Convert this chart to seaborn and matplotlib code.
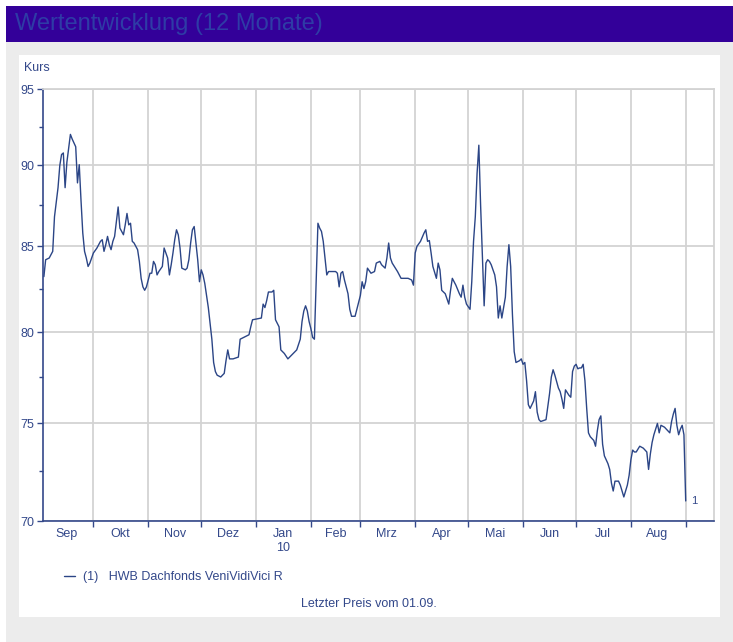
import matplotlib
matplotlib.use('Agg')
import matplotlib.pyplot as plt
import matplotlib.dates as mdates
from matplotlib.patches import Rectangle
from matplotlib.ticker import NullFormatter, FixedLocator, FixedFormatter
import pandas as pd
import seaborn as sns

dates = [
    '2009-09-03', '2009-09-04', '2009-09-06', '2009-09-08', '2009-09-09', '2009-09-11', '2009-09-12',
    '2009-09-13', '2009-09-14', '2009-09-15', '2009-09-16', '2009-09-17', '2009-09-18', '2009-09-19',
    '2009-09-21', '2009-09-22', '2009-09-23', '2009-09-24', '2009-09-25', '2009-09-26', '2009-09-27',
    '2009-09-28', '2009-09-29',
    '2009-10-01', '2009-10-03', '2009-10-05', '2009-10-06', '2009-10-07', '2009-10-08', '2009-10-09',
    '2009-10-10', '2009-10-11', '2009-10-12', '2009-10-13', '2009-10-14', '2009-10-15', '2009-10-16',
    '2009-10-17', '2009-10-18', '2009-10-19', '2009-10-20', '2009-10-21', '2009-10-22', '2009-10-23',
    '2009-10-24', '2009-10-25', '2009-10-26', '2009-10-27', '2009-10-28', '2009-10-29', '2009-10-30',
    '2009-10-31',
    '2009-11-01', '2009-11-02', '2009-11-03', '2009-11-04', '2009-11-05', '2009-11-06', '2009-11-07',
    '2009-11-09', '2009-11-10', '2009-11-11', '2009-11-12', '2009-11-13', '2009-11-14', '2009-11-15',
    '2009-11-16', '2009-11-17', '2009-11-18', '2009-11-19', '2009-11-20', '2009-11-22', '2009-11-23',
    '2009-11-24', '2009-11-25', '2009-11-26', '2009-11-27', '2009-11-28', '2009-11-29', '2009-11-30',
    '2009-12-01', '2009-12-02', '2009-12-03', '2009-12-05', '2009-12-07', '2009-12-08', '2009-12-09',
    '2009-12-10', '2009-12-12', '2009-12-14', '2009-12-15', '2009-12-16', '2009-12-17', '2009-12-19',
    '2009-12-22', '2009-12-23', '2009-12-25', '2009-12-28', '2009-12-29', '2009-12-30',
    '2010-01-04', '2010-01-05', '2010-01-06', '2010-01-07', '2010-01-08', '2010-01-10', '2010-01-11',
    '2010-01-12', '2010-01-14', '2010-01-15', '2010-01-17', '2010-01-19', '2010-01-21', '2010-01-24',
    '2010-01-26', '2010-01-27', '2010-01-28', '2010-01-29', '2010-01-30', '2010-01-31',
    '2010-02-01', '2010-02-02', '2010-02-03', '2010-02-04', '2010-02-05', '2010-02-06', '2010-02-07',
    '2010-02-08', '2010-02-09', '2010-02-10', '2010-02-11', '2010-02-15', '2010-02-16', '2010-02-17',
    '2010-02-18', '2010-02-19', '2010-02-20', '2010-02-21', '2010-02-22', '2010-02-23', '2010-02-24',
    '2010-02-26', '2010-02-27',
    '2010-03-01', '2010-03-02', '2010-03-03', '2010-03-04', '2010-03-05', '2010-03-07', '2010-03-09',
    '2010-03-10', '2010-03-12', '2010-03-13', '2010-03-15', '2010-03-16', '2010-03-17', '2010-03-18',
    '2010-03-19', '2010-03-22', '2010-03-23', '2010-03-24', '2010-03-28', '2010-03-30', '2010-03-31',
    '2010-04-01', '2010-04-02', '2010-04-04', '2010-04-06', '2010-04-07', '2010-04-08', '2010-04-09',
    '2010-04-10', '2010-04-11', '2010-04-13', '2010-04-14', '2010-04-15', '2010-04-16', '2010-04-18',
    '2010-04-20', '2010-04-21', '2010-04-22', '2010-04-24', '2010-04-26', '2010-04-27', '2010-04-28',
    '2010-04-29', '2010-04-30',
    '2010-05-02', '2010-05-03', '2010-05-04', '2010-05-05', '2010-05-06', '2010-05-07', '2010-05-08',
    '2010-05-09', '2010-05-10', '2010-05-11', '2010-05-12', '2010-05-13', '2010-05-14', '2010-05-15',
    '2010-05-16', '2010-05-17', '2010-05-18', '2010-05-19', '2010-05-20', '2010-05-21', '2010-05-22',
    '2010-05-23', '2010-05-24', '2010-05-25', '2010-05-26', '2010-05-27', '2010-05-28', '2010-05-30',
    '2010-05-31',
    '2010-06-01', '2010-06-02', '2010-06-03', '2010-06-04', '2010-06-05', '2010-06-06', '2010-06-07',
    '2010-06-08', '2010-06-09', '2010-06-10', '2010-06-11', '2010-06-14', '2010-06-16', '2010-06-17',
    '2010-06-18', '2010-06-19', '2010-06-21', '2010-06-22', '2010-06-23', '2010-06-24', '2010-06-25',
    '2010-06-27', '2010-06-28', '2010-06-29', '2010-06-30',
    '2010-07-01', '2010-07-02', '2010-07-03', '2010-07-04', '2010-07-05', '2010-07-06', '2010-07-07',
    '2010-07-08', '2010-07-09', '2010-07-11', '2010-07-12', '2010-07-13', '2010-07-14', '2010-07-15',
    '2010-07-16', '2010-07-17', '2010-07-18', '2010-07-19', '2010-07-20', '2010-07-21', '2010-07-22',
    '2010-07-23', '2010-07-25', '2010-07-26', '2010-07-27', '2010-07-28', '2010-07-29', '2010-07-30',
    '2010-07-31',
    '2010-08-01', '2010-08-02', '2010-08-03', '2010-08-04', '2010-08-06', '2010-08-08', '2010-08-09',
    '2010-08-10', '2010-08-11', '2010-08-12', '2010-08-13', '2010-08-14', '2010-08-15', '2010-08-16',
    '2010-08-17', '2010-08-18', '2010-08-20', '2010-08-22', '2010-08-23', '2010-08-24', '2010-08-25',
    '2010-08-26', '2010-08-27', '2010-08-28', '2010-08-29', '2010-08-30', '2010-08-31',
    '2010-09-01',
]
kurs = [
    83.2, 84.2, 84.3, 84.7, 86.8, 88.6, 90.0,
    90.7, 90.8, 88.6, 90.2, 91.1, 92.0, 91.7,
    91.2, 88.9, 90.05, 87.8, 85.8, 84.7, 84.3,
    83.8, 84.0,
    84.6, 84.9, 85.3, 85.4, 84.7, 85.1, 85.6,
    85.1, 84.8, 85.3, 85.6, 86.5, 87.4, 86.1,
    85.9, 85.7, 86.3, 87.0, 86.3, 86.4, 85.3,
    85.2, 85.0, 84.8, 84.1, 83.1, 82.6, 82.4,
    82.6,
    83.0, 83.4, 83.4, 84.1, 83.9, 83.3, 83.5,
    83.8, 84.9, 84.6, 84.3, 83.3, 83.9, 84.6,
    85.4, 86.0, 85.7, 84.9, 83.7, 83.6, 83.7,
    84.2, 85.2, 86.0, 86.2, 85.2, 84.2, 82.9,
    83.6, 83.3, 82.8, 81.4, 79.6, 78.3, 77.8,
    77.6, 77.5, 77.7, 78.4, 79.0, 78.5, 78.5,
    78.6, 79.6, 79.7, 79.85, 80.3, 80.7,
    80.8, 81.6, 81.4, 81.8, 82.3, 82.3, 82.4,
    80.7, 80.3, 79.0, 78.8, 78.5, 78.7, 79.0,
    79.6, 80.6, 81.2, 81.5, 81.2, 80.6,
    80.2, 79.7, 79.6, 83.0, 86.4, 86.1, 85.9,
    85.3, 84.3, 83.3, 83.5, 83.5, 83.4, 82.6,
    83.4, 83.5, 83.0, 82.6, 82.2, 81.3, 80.9,
    80.9, 81.3,
    82.1, 82.9, 82.5, 82.9, 83.7, 83.4, 83.5,
    84.0, 84.1, 83.9, 83.7, 84.3, 85.2, 84.3,
    84.0, 83.5, 83.3, 83.1, 83.1, 83.0, 82.7,
    84.6, 85.0, 85.3, 85.8, 86.0, 85.3, 85.35,
    84.6, 83.8, 83.1, 84.0, 83.6, 82.4, 82.2,
    81.6, 82.4, 83.1, 82.7, 82.2, 82.0, 82.7,
    82.0, 81.6,
    81.3, 82.9, 85.3, 86.8, 89.5, 91.3, 87.5,
    84.5, 81.5, 84.0, 84.2, 84.1, 83.9, 83.6,
    83.3, 82.6, 80.8, 81.5, 80.8, 81.4, 82.0,
    83.8, 85.1, 83.8, 81.0, 78.9, 78.3, 78.4,
    78.5,
    78.2, 78.3, 77.3, 76.0, 75.8, 76.0, 76.2,
    76.7, 75.6, 75.2, 75.1, 75.2, 76.6, 77.5,
    77.9, 77.6, 76.9, 76.7, 76.3, 75.8, 76.8,
    76.5, 76.4, 77.8, 78.1,
    78.2, 77.95, 78.0, 78.0, 78.2, 77.3, 75.8,
    74.5, 74.3, 74.1, 73.8, 74.6, 75.2, 75.4,
    73.9, 73.3, 73.1, 72.9, 72.6, 71.9, 71.5,
    72.0, 72.0, 71.8, 71.5, 71.2, 71.5, 71.8,
    72.3,
    73.1, 73.6, 73.5, 73.5, 73.8, 73.7, 73.6,
    73.5, 72.6, 73.4, 74.0, 74.4, 74.7, 75.0,
    74.5, 74.9, 74.8, 74.6, 74.5, 75.1, 75.5,
    75.8, 74.9, 74.4, 74.7, 74.9, 74.4,
    71.0,
]

month_labels = ['Sep', 'Okt', 'Nov', 'Dez', 'Jan\n10', 'Feb', 'Mrz', 'Apr', 'Mai', 'Jun', 'Jul', 'Aug']
label_dates = ['2009-09-16', '2009-10-16', '2009-11-16', '2009-12-16', '2010-01-16', '2010-02-15',
               '2010-03-16', '2010-04-16', '2010-05-16', '2010-06-16', '2010-07-16', '2010-08-16']
y_ticks = [70, 75, 80, 85, 90, 95]
y_minor = [72.5, 77.5, 82.5, 87.5, 92.5]
fund_name = '(1)   HWB Dachfonds VeniVidiVici R'

NAVY = '#33488a'
LINE = '#2b4586'
GRID = '#d3d3d3'
FS = 9

sns.set_style('white')
plt.rcParams['font.family'] = ['Liberation Sans', 'DejaVu Sans']

df = pd.DataFrame({'Datum': pd.to_datetime(dates), 'Kurs': kurs})

fig = plt.figure(figsize=(7.33, 6.42), dpi=100)
fig.patch.set_facecolor('white')

# Rahmen: grauer Hintergrund, violetter Titelbalken, weisses Panel
fig.add_artist(Rectangle((6 / 733, 0), 1, 1 - 42 / 642, transform=fig.transFigure,
                         facecolor='#ececec', edgecolor='none', zorder=-3))
fig.add_artist(Rectangle((6 / 733, 1 - 42 / 642), 1, 36 / 642, transform=fig.transFigure,
                         facecolor='#330099', edgecolor='none', zorder=-3))
fig.add_artist(Rectangle((19 / 733, 1 - 617 / 642), 701 / 733, 562 / 642, transform=fig.transFigure,
                         facecolor='white', edgecolor='none', zorder=-2))

fig.text(15 / 733, 1 - 24 / 642, 'Wertentwicklung (12 Monate)', fontsize=17,
         color='#2e3ca6', va='center', ha='left')

ax = fig.add_axes([43 / 733, 1 - 521 / 642, 671 / 733, 432 / 642])
ax.set_facecolor('white')

sns.lineplot(data=df, x='Datum', y='Kurs', estimator=None, sort=False, color=LINE,
             linewidth=1.0, ax=ax, label=fund_name, legend=False)

ax.set_yscale('log')
ax.set_ylim(70, 95)
ax.yaxis.set_major_locator(FixedLocator(y_ticks))
ax.yaxis.set_major_formatter(FixedFormatter([str(v) for v in y_ticks]))
ax.yaxis.set_minor_locator(FixedLocator(y_minor))
ax.yaxis.set_minor_formatter(NullFormatter())

ax.set_xlim(pd.Timestamp('2009-09-02 12:00'), pd.Timestamp('2010-09-17'))
ax.xaxis.set_major_locator(mdates.MonthLocator())
ax.xaxis.set_major_formatter(NullFormatter())
ax.xaxis.set_minor_locator(FixedLocator(mdates.date2num(pd.to_datetime(label_dates))))
ax.xaxis.set_minor_formatter(FixedFormatter(month_labels))

ax.grid(True, which='major', color=GRID, linewidth=1.3)
ax.set_axisbelow(True)

for side in ['top', 'right']:
    ax.spines[side].set_color(GRID)
    ax.spines[side].set_linewidth(1.3)
for side in ['left', 'bottom']:
    ax.spines[side].set_color(NAVY)
    ax.spines[side].set_linewidth(1.2)

ax.tick_params(axis='y', which='major', direction='out', length=4, width=1,
               color=NAVY, labelcolor=NAVY, labelsize=FS, pad=2, left=True)
ax.tick_params(axis='y', which='minor', direction='out', length=3, width=1, color=NAVY, left=True)
ax.tick_params(axis='x', which='major', direction='out', length=4, width=1, color=NAVY, bottom=True)
ax.tick_params(axis='x', which='minor', length=0, labelcolor=NAVY, labelsize=FS, pad=5)
ax.set_xlabel('')
ax.set_ylabel('')

# Endmarke "1" am letzten Kurs
ax.annotate('1', xy=(df['Datum'].iloc[-1], df['Kurs'].iloc[-1]), xytext=(4, 0),
            textcoords='offset points', va='center', ha='left', fontsize=FS - 1, color=NAVY)

fig.text(24 / 733, 1 - 68 / 642, 'Kurs', fontsize=FS, color=NAVY, va='center', ha='left')

handles, labels = ax.get_legend_handles_labels()
fig.legend(handles, labels, loc='center left', bbox_to_anchor=(64 / 733, 1 - 577 / 642),
           bbox_transform=fig.transFigure, frameon=False, fontsize=FS, labelcolor=NAVY,
           handlelength=0.9, handletextpad=0.6, borderpad=0, borderaxespad=0)

fig.text(369 / 733, 1 - 604 / 642, 'Letzter Preis vom 01.09.', fontsize=FS, color=NAVY,
         va='center', ha='center')

fig.savefig('out.png', dpi=100, facecolor=fig.get_facecolor())
